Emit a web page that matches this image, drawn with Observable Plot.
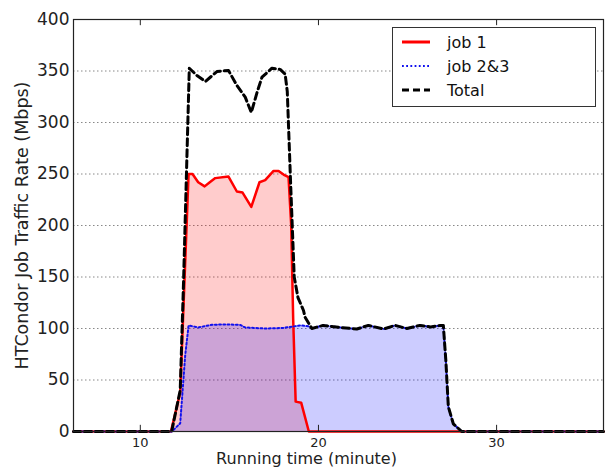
<!DOCTYPE html>
<html>
<head>
<meta charset="utf-8">
<script src="https://cdn.jsdelivr.net/npm/d3@7"></script>
<script src="https://cdn.jsdelivr.net/npm/@observablehq/plot@0.6"></script>
<style>
  html, body { margin: 0; padding: 0; background: #ffffff; }
  #wrap { position: relative; width: 605px; height: 470px; font-family: "DejaVu Sans", sans-serif; }
  #legend { position: absolute; left: 392px; top: 27px; width: 204px; height: 80px; border: 1.5px solid #333; background: #fff; box-sizing: border-box; }
  .row { position: absolute; left: 0; height: 22px; display: flex; align-items: center; font-size: 16px; color: #111; }
  .row svg { margin-left: 9px; margin-right: 17px; }
</style>
</head>
<body>
<div id="wrap"></div>
<script>
// Series
const job1Time = [6.25, 11.72, 12.24, 12.71, 12.93, 13.25, 13.61, 13.9, 14.21, 14.95, 15.42, 15.74, 16.23, 16.69, 17.01, 17.48, 17.76, 18.04, 18.32, 18.47, 18.58, 18.72, 19.03, 19.46, 36];
const job1Rate = [0, 0, 38, 250, 250, 242, 238, 242, 246, 247.5, 233, 232, 218, 242, 244, 253, 253, 249.5, 247, 200, 110, 29, 28, 0, 0];

const job23Time = [6.25, 11.78, 12.24, 12.52, 12.71, 13.25, 14.02, 14.77, 15.6, 15.89, 17.0, 18.0, 18.6, 19.0, 19.5, 19.63, 20.26, 21.22, 22.15, 22.8, 23.65, 24.3, 24.96, 25.7, 26.3, 26.83, 27.01, 27.15, 27.29, 27.57, 28.04, 36];
const job23Rate = [0, 0, 8, 74, 103, 101, 103.6, 104, 103.5, 101, 100, 100.5, 102, 103, 102, 100, 103, 101, 99.5, 103, 99.5, 103, 100, 103, 101.5, 103, 103, 69, 24, 7.5, 0, 0];

const totalTime = [6.25, 11.76, 12.24, 12.43, 12.75, 13.18, 13.65, 14.3, 14.95, 15.42, 15.89, 16.23, 16.55, 16.83, 17.39, 17.85, 18.13, 18.25, 18.45, 18.64, 18.85, 19.16, 19.25, 19.63, 20.26, 21.22, 22.15, 22.8, 23.65, 24.3, 24.96, 25.7, 26.3, 26.83, 27.01, 27.15, 27.29, 27.57, 28.04, 36];
const totalRate = [0, 0, 40, 147, 352.7, 345.6, 339.8, 349.5, 350.5, 336, 324.6, 309.7, 329, 344, 352.7, 351.5, 347, 330, 235, 150, 130, 117.5, 111, 100, 103, 101, 99.5, 103, 99.5, 103, 100, 103, 101.5, 103, 103, 69, 24, 7.5, 0, 0];

const xTicks = [10, 20, 30];
const yTicks = [0, 50, 100, 150, 200, 250, 300, 350, 400];
const seriesNames = ["job 1", "job 2&3", "Total"];
const xLabel = "Running time (minute)";
const yLabel = "HTCondor Job Traffic Rate (Mbps)";

const job1 = job1Time.map((t, i) => ({t, v: job1Rate[i]}));
const job23 = job23Time.map((t, i) => ({t, v: job23Rate[i]}));
const total = totalTime.map((t, i) => ({t, v: totalRate[i]}));

const chart = Plot.plot({
  width: 605,
  height: 470,
  marginLeft: 73,
  marginRight: 2,
  marginTop: 19,
  marginBottom: 39,
  style: {fontFamily: "DejaVu Sans, sans-serif", background: "transparent", overflow: "visible"},
  x: {domain: [6.25, 36]},
  y: {domain: [0, 400]},
  marks: [
    Plot.ruleY(yTicks.filter(d => d > 0 && d < 400), {stroke: "#888", strokeDasharray: "1.5,2.5", strokeWidth: 1}),
    Plot.areaY(job1, {x: "t", y: "v", fill: "#ff0000", fillOpacity: 0.2}),
    Plot.areaY(job23, {x: "t", y: "v", fill: "#0000ff", fillOpacity: 0.2}),
    Plot.line(job1, {x: "t", y: "v", stroke: "#ff0000", strokeWidth: 2.5}),
    Plot.line(job23, {x: "t", y: "v", stroke: "#1010ee", strokeWidth: 2, strokeDasharray: "1.8,2.4"}),
    Plot.line(total, {x: "t", y: "v", stroke: "#000", strokeWidth: 3, strokeDasharray: "7,4"}),
    Plot.ruleX(xTicks, {y1: 0, y2: 6, stroke: "#222"}),
    Plot.ruleX(xTicks, {y1: 394, y2: 400, stroke: "#222"}),
    Plot.frame({stroke: "#222", strokeWidth: 1.2}),
    Plot.axisX(xTicks, {tickSize: 0, tickPadding: 6, fontSize: 13, label: null, color: "#222"}),
    Plot.text([xLabel], {frameAnchor: "bottom", dx: -32, dy: 21, text: d => d, fontSize: 16, fill: "#222", lineAnchor: "top", textAnchor: "middle"}),
    Plot.axisY(yTicks, {tickSize: 0, tickPadding: 4, fontSize: 17, tickFormat: d => String(d), label: null, color: "#222"}),
    Plot.text([yLabel], {frameAnchor: "left", dx: -51, rotate: -90, text: d => d, fontSize: 17.5, fill: "#222", textAnchor: "middle"})
  ]
});

const wrap = document.getElementById("wrap");
wrap.appendChild(chart);

// Legend (HTML overlay)
const legend = document.createElement("div");
legend.id = "legend";
const samples = [
  {stroke: "#ff0000", width: 3, dash: null},
  {stroke: "#1010ee", width: 2, dash: "1.8,2.4"},
  {stroke: "#000", width: 3, dash: "7,4"}
];
seriesNames.forEach((name, i) => {
  const row = document.createElement("div");
  row.className = "row";
  row.style.top = (3 + i * 24) + "px";
  const s = samples[i];
  row.innerHTML = `<svg width="28" height="10"><line x1="0" y1="5" x2="28" y2="5" stroke="${s.stroke}" stroke-width="${s.width}" ${s.dash ? `stroke-dasharray="${s.dash}"` : ""}/></svg><span>${name}</span>`;
  legend.appendChild(row);
});
wrap.appendChild(legend);
</script>
</body>
</html>
